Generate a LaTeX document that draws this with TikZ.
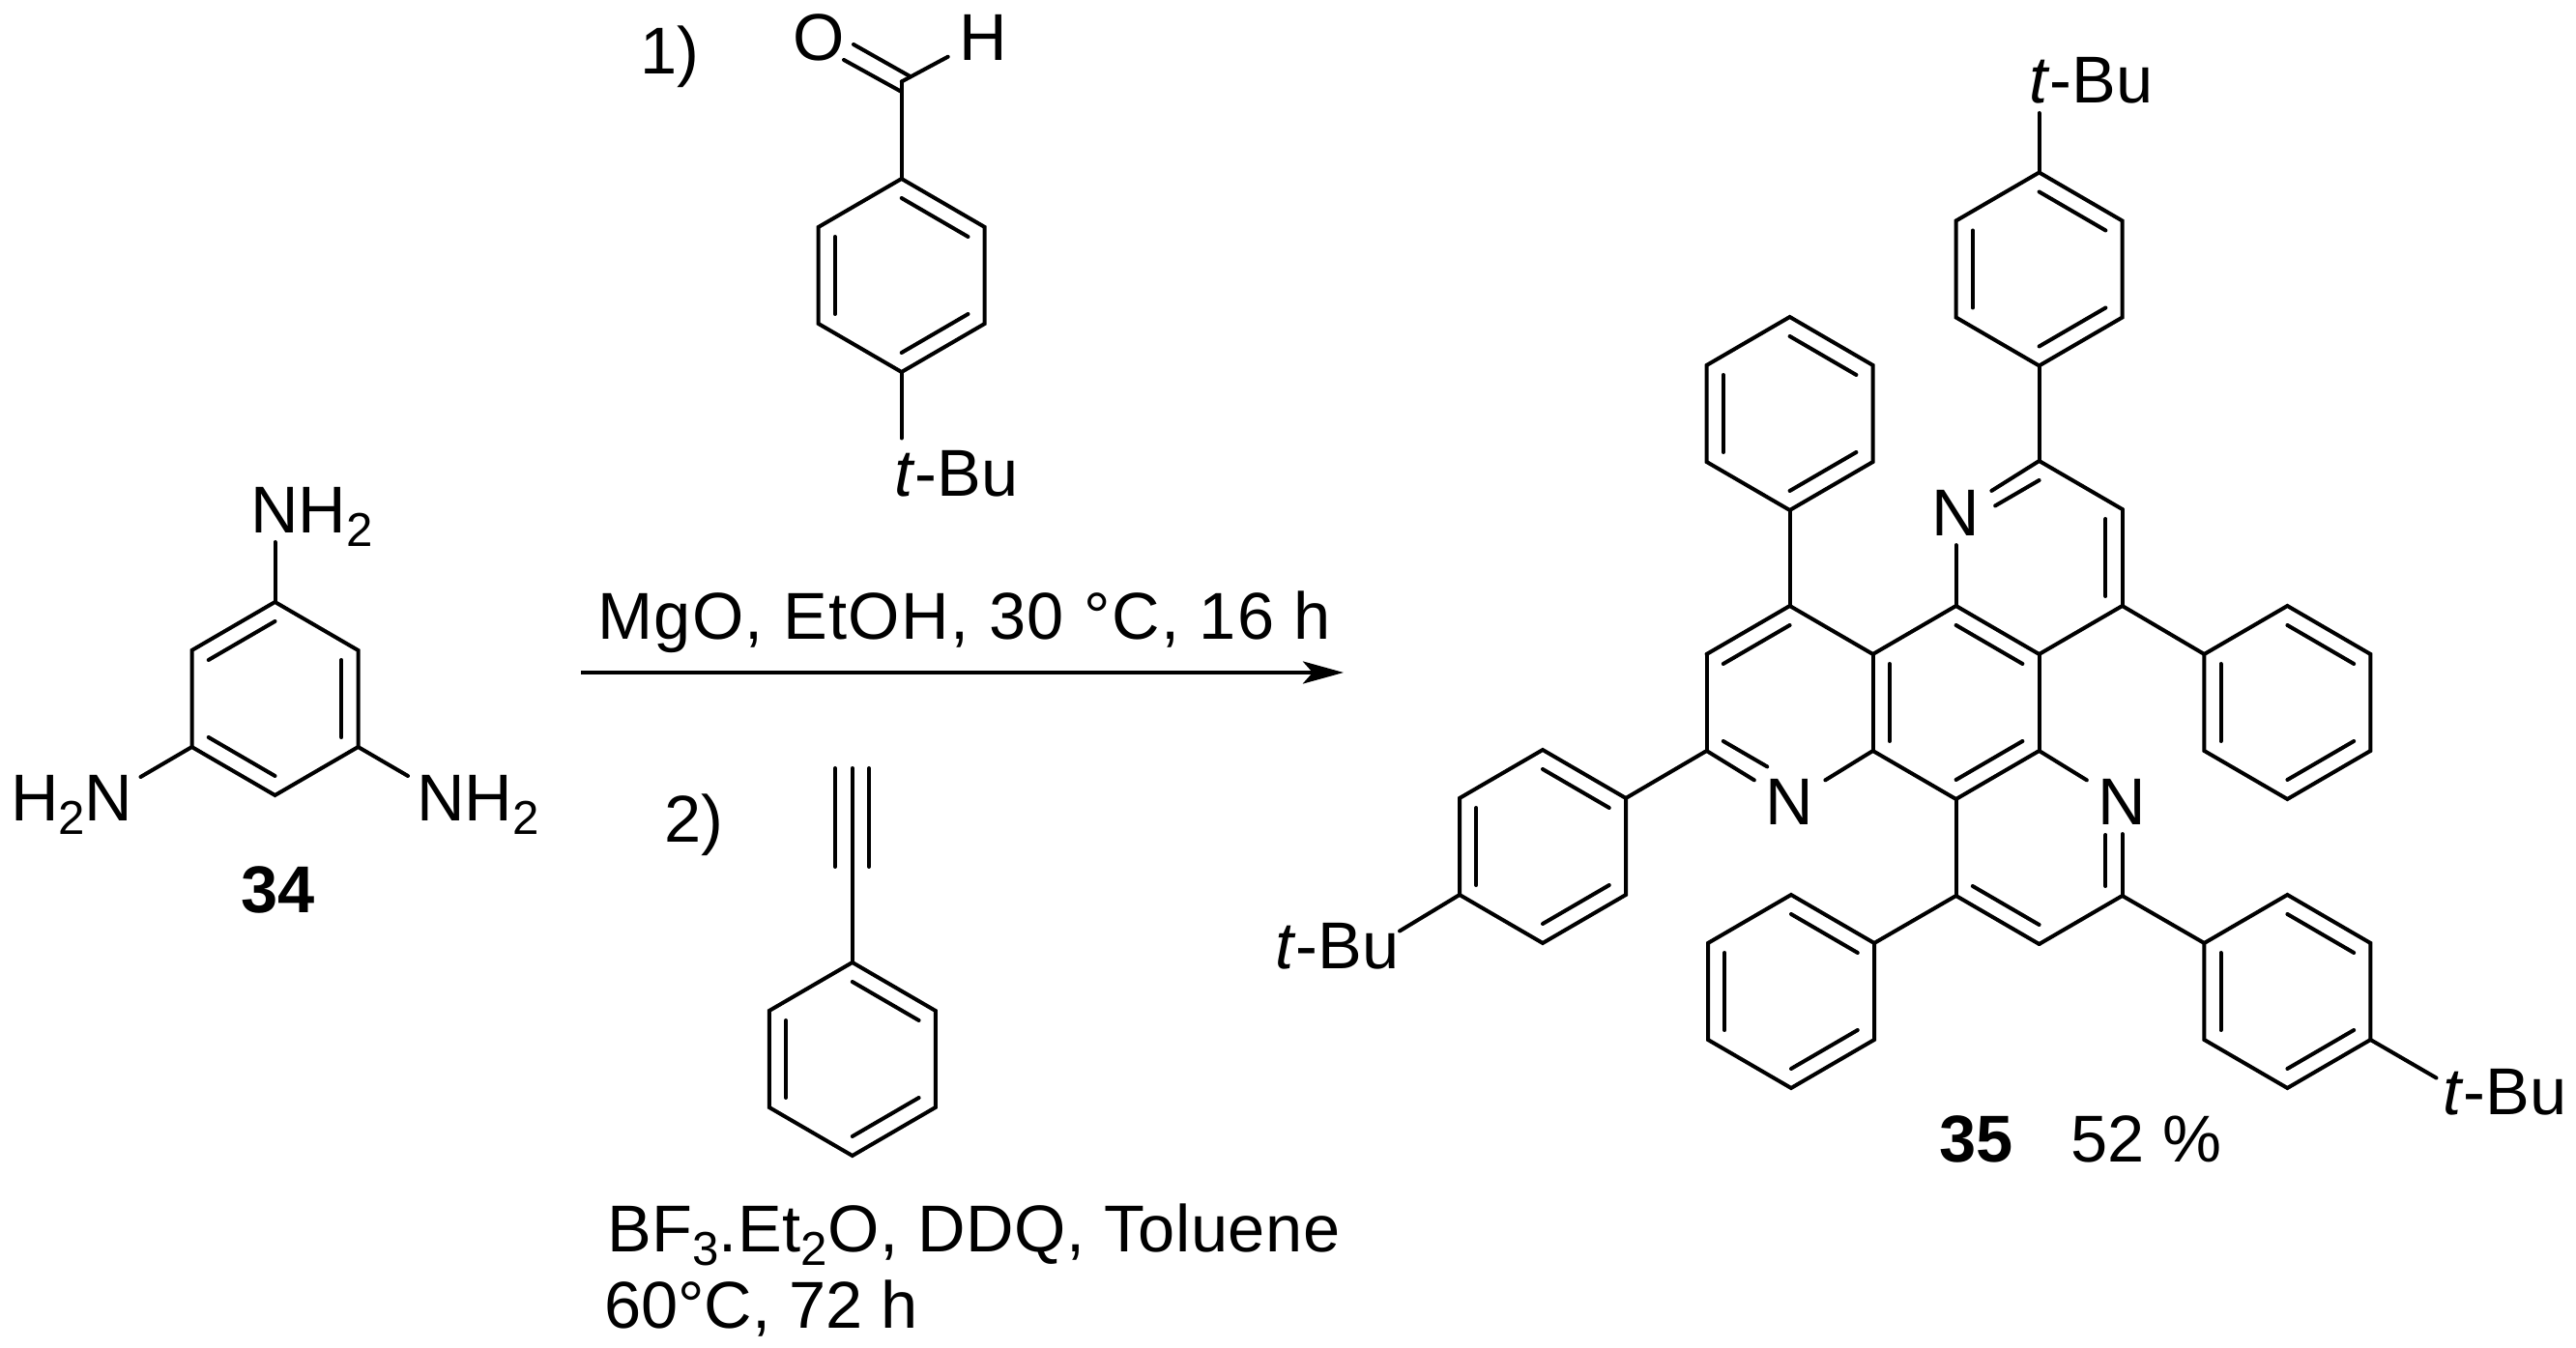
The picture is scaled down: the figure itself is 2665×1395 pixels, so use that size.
\documentclass[tikz,border=0pt]{standalone}
\usepackage{fontspec}
\setmainfont{Liberation Sans}
\usetikzlibrary{calc,arrows.meta}

\newcommand{\labelfont}{\fontsize{19.5}{23}\selectfont}
\newcommand{\sbs}[1]{\raisebox{-.19em}{\fontsize{14}{14}\selectfont #1}}
\newcommand{\hexat}[3]{%
    \coordinate (#1) at (#2,#3);
    \foreach \i/\dx/\dy in {1/0/-100,2/86/-50,3/86/50,4/0/100,5/-86/50,6/-86/-50}
        \coordinate (#1\i) at (#2+\dx,#3+\dy);
}
\newcommand{\innerbond}[4][]{\draw[#1] ($(#2)!.8!(#2#3)$) -- ($(#2)!.8!(#2#4)$);}
\newcommand{\arene}[3]{%
    \hexat{#1}{#2}{#3}
    \draw (#11) -- (#12) -- (#13) -- (#14) -- (#15) -- (#16) -- cycle;
    \innerbond{#1}{1}{2}
    \innerbond{#1}{6}{5}
    \innerbond{#1}{4}{3}
}

\begin{document}
\begin{tikzpicture}[x=.01cm,y=-.01cm,line width=.04cm,line cap=round,
        every node/.style={font=\labelfont}]
        \tikzstyle{atom}=[inner xsep=.1cm,inner ysep=.075cm]
        \tikzstyle{txt}=[anchor=base west,inner sep=0pt]
        \useasboundingbox (0,0) rectangle (2665,1395);

        \hexat{am}{284.5}{723}
        \draw (am1) -- (am2) -- (am3) -- (am4) -- (am5) -- (am6) -- cycle;
        \innerbond{am}{1}{6}
        \innerbond{am}{2}{3}
        \innerbond{am}{5}{4}
        \node[txt] (NHa) at (257,552) {NH\sbs{2}};
        \node[txt] (NHb) at (429,850) {NH\sbs{2}};
        \node[txt] (NHc) at (9,850) {H\sbs{2}N};
        \node[anchor=base,inner sep=0pt] (lab34) at (288,945) {\textbf{34}};
        \coordinate (ea) at (284.5,561);
        \coordinate (eb) at (422,803);
        \coordinate (ec) at (145.5,804);
        \path (am1) edge (ea)
        (am3) edge (eb)
        (am5) edge (ec);

        \node[txt] (one) at (660,76.5) {1)};
        \arene{al}{932.7}{285}
        \coordinate (alC) at (932.7,84.5);
        \node[atom] (alO) at (847,39) {O};
        \node[atom] (alH) at (1017.5,39) {H};
        \node[txt] (tBua) at (923,514) {\textit{t}-Bu};
        \coordinate (ed) at (932.7,453.5);
        \coordinate (oa) at (873,62);
        \coordinate (ob) at (932.7,95);
        \coordinate (oc) at (883,46);
        \coordinate (od) at (940.7,78.6);
        \path (al1) edge (alC)
        (alC) edge (alH)
        (oa) edge (ob)
        (oc) edge (od)
        (al4) edge (ed);

        \node[txt] (cond) at (616,662) {\addfontfeatures{LetterSpace=2.05}MgO, EtOH, 30 °C, 16 h};
        \coordinate (arrL) at (601,696);
        \coordinate (arrR) at (1390,696);
        \draw[-{Stealth[length=.42cm,width=.23cm,inset=.1cm]},line cap=butt] (arrL) -- (arrR);

        \node[txt] (two) at (685,872) {2)};
        \arene{et}{881.8}{1096}
        \coordinate (ee) at (881.8,795);
        \coordinate (tra) at (864,795);
        \coordinate (trb) at (864,897);
        \coordinate (trc) at (899,795);
        \coordinate (trd) at (899,897);
        \path (et1) edge (ee)
        (tra) edge (trb)
        (trc) edge (trd);
        \node[txt] (condb) at (626,1296) {\addfontfeatures{LetterSpace=1}BF\sbs{3}.Et\sbs{2}O, DDQ, Toluene};
        \node[txt] (condc) at (623,1374.5) {60°C, 72 h};

        \hexat{core}{2023.6}{727}
        \hexat{pya}{2109.6}{577}
        \hexat{pyb}{1851.6}{727}
        \hexat{pyc}{2109.6}{877}
        \node[atom] (Na) at (2023.6,531) {N};
        \node[atom] (Nb) at (1851.6,830) {N};
        \node[atom] (Nc) at (2195.6,830) {N};

        \path (pya1) edge (Na)
        (pya1) edge (pya2)
        (pya2) edge (pya3)
        (pya3) edge (pya4)
        (pya4) edge (pya5)
        (pya5) edge (Na);
        \path (pyb1) edge (pyb2)
        (pyb1) edge (pyb6)
        (pyb6) edge (pyb5)
        (pyb5) edge (Nb)
        (Nb) edge (pyb3)
        (pyb3) edge (pyb2);
        \path (core1) edge (core6)
        (core2) edge (core3)
        (core3) edge (core4)
        (core4) edge (core5);
        \path (core3) edge (Nc)
        (Nc) edge (pyc3)
        (pyc3) edge (pyc4)
        (pyc4) edge (pyc5)
        (pyc5) edge (pyc6);
        \innerbond{core}{1}{2}
        \innerbond{core}{6}{5}
        \innerbond{core}{3}{4}
        \innerbond{pya}{2}{3}
        \innerbond{pyb}{1}{6}
        \innerbond{pyc}{5}{4}
        \innerbond[shorten >=.27cm]{pya}{1}{6}
        \innerbond[shorten >=.27cm]{pyb}{5}{4}
        \innerbond[shorten >=.27cm]{pyc}{3}{2}

        \arene{tu}{2109.6}{278.5}
        \arene{pha}{1851.6}{428}
        \arene{phb}{2366.4}{727}
        \arene{tv}{1596}{876}
        \arene{phc}{1853}{1026}
        \arene{tw}{2366.4}{1026}
        \path (tu4) edge (pya1)
        (pha4) edge (pyb1)
        (phb6) edge (pya3)
        (tv2) edge (pyb5)
        (phc2) edge (pyc5)
        (tw6) edge (pyc3);

        \node[txt] (tBub) at (2097,107) {\textit{t}-Bu};
        \node[txt] (tBuc) at (1317,1003) {\textit{t}-Bu};
        \node[txt] (tBud) at (2525,1153.5) {\textit{t}-Bu};
        \coordinate (ef) at (2109.6,117);
        \coordinate (eg) at (1448,963.5);
        \coordinate (eh) at (2520.5,1115.5);
        \path (tu1) edge (ef)
        (tv5) edge (eg)
        (tw3) edge (eh);

        \node[txt] (lab35) at (2004,1203) {\textbf{35}};
        \node[txt] (yield) at (2140,1203) {52 \%};
    \end{tikzpicture}
\end{document}
